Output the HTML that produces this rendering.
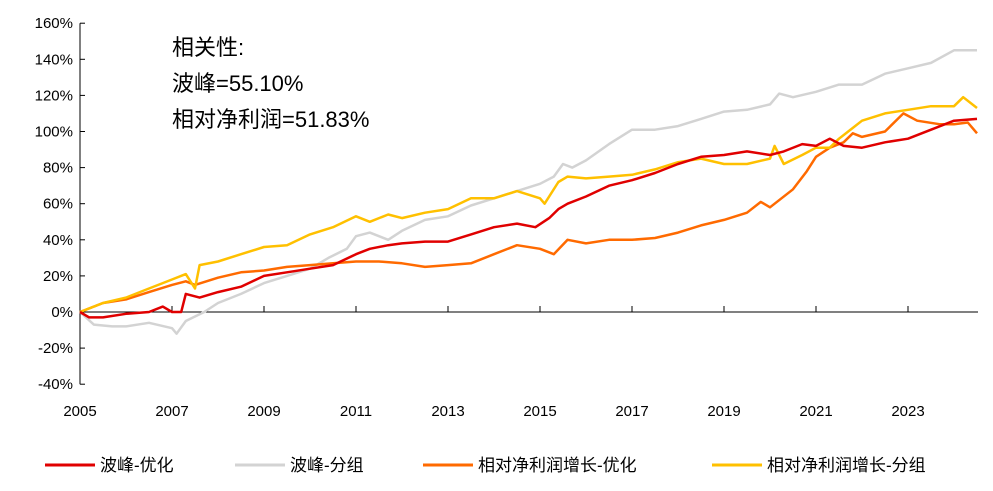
<!DOCTYPE html>
<html><head><meta charset="utf-8"><style>
body{margin:0;background:#fff;width:993px;height:486px;overflow:hidden;font-family:"Liberation Sans","Noto Sans CJK SC",sans-serif}
svg text{font-family:"Liberation Sans","Noto Sans CJK SC",sans-serif}
</style></head><body>
<svg id="c" width="993" height="486"></svg>
<script>
const yTicks=[-40,-20,0,20,40,60,80,100,120,140,160];
const xTicks=[2005,2007,2009,2011,2013,2015,2017,2019,2021,2023];
const seriesNames=["波峰-优化","波峰-分组","相对净利润增长-优化","相对净利润增长-分组"];
const colors=["#e00000","#d3d3d3","#ff6a00","#ffc000"];
const redX=[2005,2005.2,2005.5,2006,2006.5,2006.8,2007,2007.2,2007.3,2007.6,2008,2008.5,2009,2009.5,2010,2010.5,2011,2011.3,2011.7,2012,2012.5,2013,2013.5,2014,2014.5,2014.9,2015.2,2015.4,2015.6,2016,2016.5,2017,2017.5,2018,2018.5,2019,2019.5,2020,2020.3,2020.7,2021,2021.3,2021.6,2022,2022.5,2023,2023.5,2024,2024.5];
const redY=[0,-3,-3,-1,0,3,0,0,10,8,11,14,20,22,24,26,32,35,37,38,39,39,43,47,49,47,52,57,60,64,70,73,77,82,86,87,89,87,89,93,92,96,92,91,94,96,101,106,107];
const grayX=[2005,2005.3,2005.7,2006,2006.5,2007,2007.1,2007.3,2007.7,2008,2008.5,2009,2009.5,2010,2010.4,2010.8,2011,2011.3,2011.7,2012,2012.5,2013,2013.5,2014,2014.5,2015,2015.3,2015.5,2015.7,2016,2016.5,2017,2017.5,2018,2018.5,2019,2019.5,2020,2020.2,2020.5,2021,2021.5,2022,2022.5,2023,2023.5,2024,2024.5];
const grayY=[0,-7,-8,-8,-6,-9,-12,-5,0,5,10,16,20,24,30,35,42,44,40,45,51,53,59,63,67,71,75,82,80,84,93,101,101,103,107,111,112,115,121,119,122,126,126,132,135,138,145,145];
const orangeX=[2005,2005.5,2006,2006.5,2007,2007.3,2007.5,2008,2008.5,2009,2009.5,2010,2010.5,2011,2011.5,2012,2012.5,2013,2013.5,2014,2014.5,2015,2015.3,2015.6,2016,2016.5,2017,2017.5,2018,2018.5,2019,2019.5,2019.8,2020,2020.5,2020.8,2021,2021.3,2021.6,2021.8,2022,2022.5,2022.9,2023.2,2023.7,2024,2024.3,2024.5];
const orangeY=[0,5,7,11,15,17,15,19,22,23,25,26,27,28,28,27,25,26,27,32,37,35,32,40,38,40,40,41,44,48,51,55,61,58,68,78,86,91,94,99,97,100,110,106,104,104,105,99];
const yellowX=[2005,2005.5,2006,2006.5,2007,2007.3,2007.5,2007.6,2008,2008.5,2009,2009.5,2010,2010.5,2011,2011.3,2011.7,2012,2012.5,2013,2013.5,2014,2014.5,2015,2015.1,2015.4,2015.6,2016,2016.5,2017,2017.5,2018,2018.5,2019,2019.5,2020,2020.1,2020.3,2020.7,2021,2021.3,2021.5,2021.7,2022,2022.5,2023,2023.5,2024,2024.2,2024.5];
const yellowY=[0,5,8,13,18,21,13,26,28,32,36,37,43,47,53,50,54,52,55,57,63,63,67,63,60,72,75,74,75,76,79,83,85,82,82,85,92,82,87,91,91,96,100,106,110,112,114,114,119,113];

const NS="http://www.w3.org/2000/svg";
const svg=document.getElementById('c');
const x0=80,x1=978,y0=312;
const sx=v=>x0+(v-2005)*46;
const sy=v=>y0-v*36.1/20;
function mk(t,a,p){const e=document.createElementNS(NS,t);for(const k in a)e.setAttribute(k,a[k]);(p||svg).appendChild(e);return e;}
// axes
let ax=mk('line',{x1:x0,y1:sy(160),x2:x0,y2:sy(-40),stroke:'#000','stroke-width':1});


ax=mk('line',{x1:x0,y1:y0,x2:x1,y2:y0,stroke:'#000','stroke-width':1});


yTicks.forEach(v=>{
  mk('line',{x1:x0,y1:sy(v),x2:x0+5,y2:sy(v),stroke:'#000'});
  const t=mk('text',{x:73,y:sy(v)+5,'text-anchor':'end','font-size':15,fill:'#000'});
  t.textContent=v+'%';
  
  
});
xTicks.forEach(v=>{
  mk('line',{x1:sx(v),y1:y0,x2:sx(v),y2:y0-6,stroke:'#000'});
  const t=mk('text',{x:sx(v),y:416,'text-anchor':'middle','font-size':15,fill:'#000'});
  t.textContent=v;
  
  
});
const data=[[grayX,grayY,1],[orangeX,orangeY,2],[yellowX,yellowY,3],[redX,redY,0]];
data.forEach(([xs,ys,i])=>{
  const d=xs.map((x,j)=>(j?'L':'M')+sx(x).toFixed(1)+','+sy(ys[j]).toFixed(1)).join('');
  const p=mk('path',{d:d,fill:'none',stroke:colors[i],'stroke-width':2.5,'stroke-linejoin':'round'});
  
  
});
// annotation
const ann=["相关性:","波峰=55.10%","相对净利润=51.83%"];
ann.forEach((s,i)=>{
  const t=mk('text',{x:172,y:55+i*36,'font-size':22,fill:'#000'});
  t.textContent=s;
  
  
});
// legend
const lx=[45,235,423,712];
seriesNames.forEach((n,i)=>{
  const g=mk('g',{});
  
  
  mk('line',{x1:lx[i],y1:465,x2:lx[i]+50,y2:465,stroke:colors[i],'stroke-width':3},g);
  const t=mk('text',{x:lx[i]+55,y:471,'font-size':17,fill:'#000'},g);
  t.textContent=n;
});
</script>
</body></html>
